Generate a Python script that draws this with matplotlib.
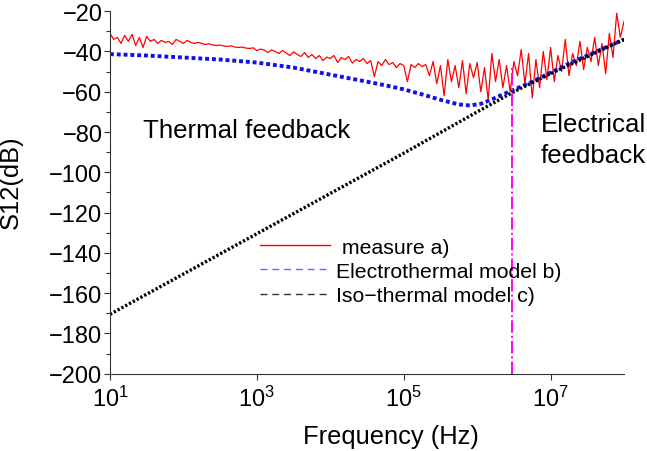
import numpy as np
import matplotlib
matplotlib.use("Agg")
import matplotlib.pyplot as plt
from matplotlib.lines import Line2D

plt.rcParams["font.family"] = ["Liberation Sans", "DejaVu Sans"]
plt.rcParams["mathtext.fontset"] = "custom"
plt.rcParams["mathtext.rm"] = "Liberation Sans"
plt.rcParams["mathtext.it"] = "Liberation Sans:italic"

# measured S12, one value every 0.05 decade from 10^1 to 10^8 Hz
meas_logf = np.arange(1.0, 8.0001, 0.05)
meas_db = [
    -31, -34, -33, -36, -32, -35, -31.5, -37, -33, -38,
    -32.5, -35, -34, -36, -34.5, -35.5, -35, -36.5, -34, -35,
    -36, -34.5, -35.5, -36, -35.5, -36, -36.5, -36.2, -36.8, -37,
    -36.8, -37.3, -37.5, -37.2, -37.8, -38, -37.8, -38.3, -38.5, -38.2,
    -39.5, -38.8, -39.3, -40.5, -39.2, -40, -41, -39.5, -40.8, -42,
    -40.2, -41.5, -42.5, -40.5, -43, -41.5, -43.5, -42, -44.5, -42.8,
    -43.5, -42, -45.5, -43, -44, -42.5, -45.8, -44, -45, -43.5,
    -46, -44.5, -52.5, -45, -47, -44, -46.5, -45.5, -48, -46,
    -47, -55, -46.5, -48, -46, -47.5, -46.5, -52, -45, -56,
    -47, -62, -44, -55, -47, -58, -44.5, -61, -46, -53,
    -45.5, -60, -48, -64, -41, -55, -44, -58, -47, -60,
    -45, -52, -39, -56, -41, -63, -44, -58, -40, -54,
    -38, -55, -42, -50, -34, -52, -41, -47, -35, -49,
    -38, -45, -33, -47, -36, -51, -31, -43, -21, -33,
    -25,
]

# electrothermal model b)
elth_logf = [1.0, 1.5, 2.0, 2.5, 3.0, 3.5, 4.0, 4.5, 4.75, 5.0, 5.25, 5.5,
             5.75, 5.9, 6.05, 6.2, 6.35, 6.5, 6.75, 7.0, 7.25, 7.5, 7.75, 8.0]
elth_db = [-41.3, -42, -43, -44, -45.5, -48, -51.5, -55, -56.8, -58.8, -61.3, -64,
           -66.3, -66.8, -66, -63.8, -61.3, -59, -55, -50.5, -46, -42, -38, -34]

# iso-thermal model c)
iso_logf = [1.0, 2.0, 3.0, 4.0, 5.0, 6.0, 6.5, 7.0, 7.5, 8.0]
iso_db = [-170.5, -150.5, -130.5, -110.5, -90.5, -70, -60, -51, -42.5, -34]

f_cross = 3.0e6
cross_db = [-200, -48]

fig = plt.figure(figsize=(6.47, 4.52), dpi=100)
ax = fig.add_axes([0.170, 0.171, 0.7945, 0.802])

ax.plot(10 ** meas_logf, meas_db, color="red", lw=0.9)
ax.plot(10 ** np.array(elth_logf), elth_db, color="#1010ee", lw=2.8,
        dashes=(1.0, 0.75), dash_capstyle="butt")
ax.plot(10 ** np.array(iso_logf), iso_db, color="black", lw=2.4,
        dashes=(0.7, 0.6), dash_capstyle="butt")
ax.plot([f_cross, f_cross], cross_db, color="magenta", lw=1.4, linestyle="-.")

ax.set_xscale("log")
ax.set_xlim(10, 1e8)
ax.set_ylim(-200, -20)
ax.set_xticks([1e1, 1e3, 1e5, 1e7])
ax.xaxis.set_minor_locator(matplotlib.ticker.NullLocator())
ax.set_yticks(np.arange(-200, -19, 20))
ax.set_yticks(np.arange(-190, -20, 20), minor=True)

for side in ["top", "right"]:
    ax.spines[side].set_visible(False)
for side in ["left", "bottom"]:
    ax.spines[side].set_color("#333333")
    ax.spines[side].set_linewidth(0.8)
ax.tick_params(which="major", length=4.5, width=0.8, color="#333333",
               labelsize=17, pad=1)
ax.tick_params(axis="x", which="major", pad=4)
ax.tick_params(which="minor", length=3.2, width=0.8, color="#333333")

ax.set_xlabel("Frequency (Hz)", fontsize=18.4, labelpad=0)
ax.xaxis.set_label_coords(0.546, -0.14)
ax.set_ylabel("S12(dB)", fontsize=18.4)
ax.yaxis.set_label_coords(-0.17, 0.53)

ax.text(28, -82.4, "Thermal feedback", fontsize=18.6, va="baseline")
ax.text(7.3e6, -94.9, "Electrical\nfeedback", fontsize=18.6, va="baseline",
        linespacing=1.35)

handles = [
    Line2D([0], [0], color="red", lw=1.0),
    Line2D([0], [0], color="#6666ff", lw=1.0, dashes=(5, 3.5)),
    Line2D([0], [0], color="#333333", lw=1.0, dashes=(5, 3.5)),
]
ax.legend(handles, [" measure a)", "Electrothermal model b)", "Iso\u2212thermal model c)"],
          loc="upper left", bbox_to_anchor=(0.292, 0.3755), frameon=False,
          fontsize=15.3, handlelength=3.3, handletextpad=0.25,
          labelspacing=0.25, borderpad=0, borderaxespad=0)

fig.savefig("out.png", dpi=100)
